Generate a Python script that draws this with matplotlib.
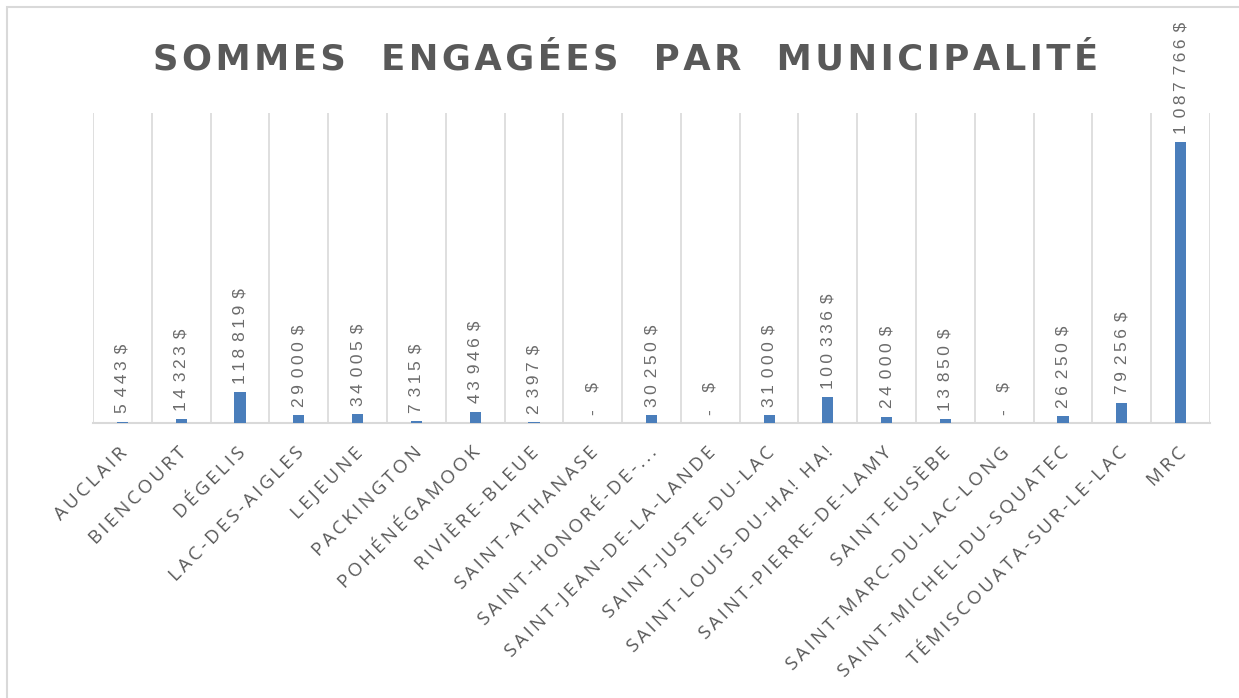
import matplotlib.pyplot as plt
import matplotlib.transforms as mtransforms
from matplotlib.patches import Rectangle

# montants engagés par municipalité
municipalites = [
    "AUCLAIR", "BIENCOURT", "DÉGELIS", "LAC-DES-AIGLES", "LEJEUNE",
    "PACKINGTON", "POHÉNÉGAMOOK", "RIVIÈRE-BLEUE", "SAINT-ATHANASE",
    "SAINT-HONORÉ-DE-...", "SAINT-JEAN-DE-LA-LANDE", "SAINT-JUSTE-DU-LAC",
    "SAINT-LOUIS-DU-HA! HA!", "SAINT-PIERRE-DE-LAMY", "SAINT-EUSÈBE",
    "SAINT-MARC-DU-LAC-LONG", "SAINT-MICHEL-DU-SQUATEC",
    "TÉMISCOUATA-SUR-LE-LAC", "MRC",
]
sommes = [5443, 14323, 118819, 29000, 34005, 7315, 43946, 2397, 0,
          30250, 0, 31000, 100336, 24000, 13850, 0, 26250, 79256, 1087766]

GRIS = "#595959"
BLEU = "#4a7ebb"
LIGNE = "#d9d9d9"
FIN = "\u2009"


def fmt(v):
    # format comptable : espaces entre les milliers, tiret pour zéro
    if v == 0:
        return "-" + FIN * 5 + "$"
    groupes = f"{v:,}".split(",")
    corps = (FIN * 2).join(FIN.join(g) for g in groupes)
    return corps + FIN * 2 + "$"


def espacer(txt, sep):
    # imite l'espacement des lettres d'Excel
    return sep.join(txt)


fig = plt.figure(figsize=(12.39, 6.98), dpi=100)
fig.patches.append(Rectangle((0.006, -0.01), 1.0, 1.0, transform=fig.transFigure,
                             fill=False, edgecolor=LIGNE, linewidth=1.5))

ax = fig.add_axes([0.0751, 0.394, 0.9015, 0.444])
x = list(range(len(municipalites)))
ax.bar(x, sommes, width=0.19, color=BLEU, zorder=3)

ax.set_xlim(-0.5, len(municipalites) - 0.5)
ax.set_ylim(0, 1200000)

# lignes verticales entre les catégories
for b in range(len(municipalites) + 1):
    ax.axvline(b - 0.5, color=LIGNE, linewidth=1.2, zorder=1)

for s in ["top", "right", "left"]:
    ax.spines[s].set_visible(False)
ax.spines["bottom"].set_color(LIGNE)
ax.spines["bottom"].set_linewidth(1.5)
ax.set_yticks([])

ax.set_xticks(x)
ax.set_xticklabels([espacer(m, FIN) for m in municipalites], rotation=45,
                   ha="right", va="baseline", rotation_mode="anchor",
                   fontsize=13.5, color=GRIS, family=["Open Sans", "DejaVu Sans"])
ax.tick_params(axis="x", length=0, pad=22)
decalage = mtransforms.ScaledTranslation(6 / 100, 0, fig.dpi_scale_trans)
for lab in ax.get_xticklabels():
    lab.set_transform(lab.get_transform() + decalage)

for xi, v in zip(x, sommes):
    ax.annotate(fmt(v), (xi, v), xytext=(0, 6), textcoords="offset points",
                rotation=90, ha="center", va="bottom", fontsize=12.5,
                color="#6b6b6b", family=["Liberation Sans", "DejaVu Sans"])

fig.text(0.505, 0.901, espacer("SOMMES  ENGAGÉES  PAR  MUNICIPALITÉ", "\u200a"),
         ha="center", va="baseline", fontsize=25.5, fontweight="bold", color=GRIS,
         family="DejaVu Sans")

fig.savefig("out.png", dpi=100)
